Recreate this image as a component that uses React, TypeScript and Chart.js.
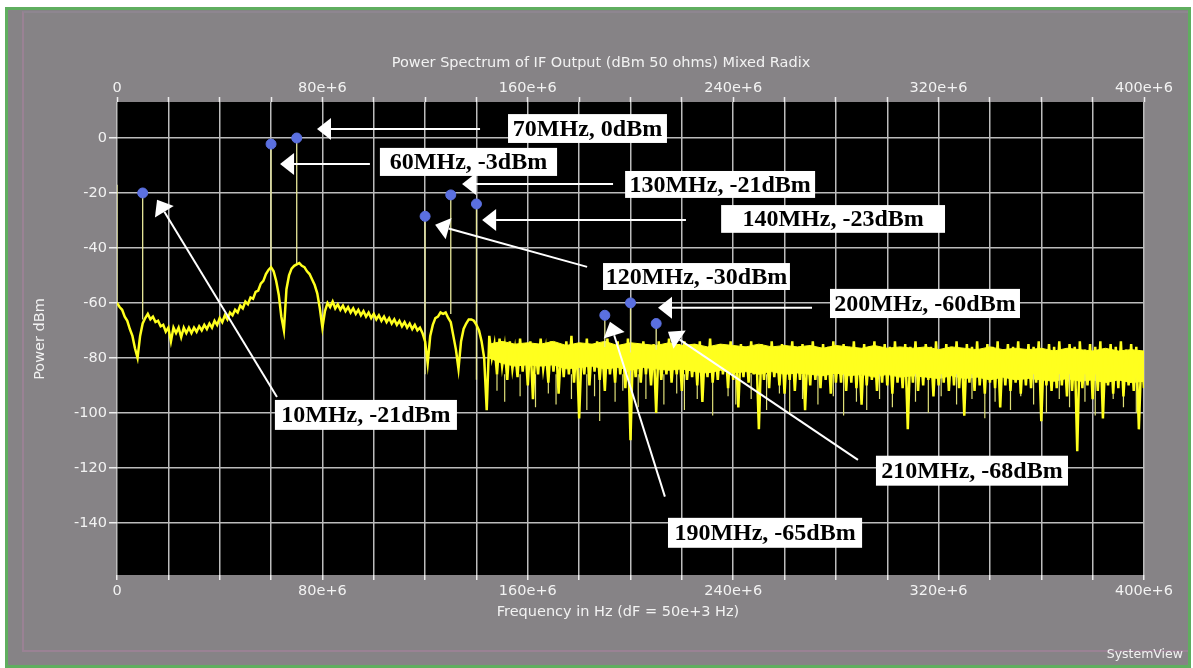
import React, { useEffect, useRef } from "react";
import { Chart, registerables } from "chart.js";

Chart.register(...registerables);

// ---------- data ----------
const chartTitle = "Power Spectrum of IF Output (dBm 50 ohms) Mixed Radix";
const xAxisTitle = "Frequency in Hz (dF = 50e+3 Hz)";
const yAxisTitle = "Power dBm";
const brandText = "SystemView";

// frequency grid lines (Hz) and the ones that carry a label
const xGridHz = [
  0, 20e6, 40e6, 60e6, 80e6, 100e6, 120e6, 140e6, 160e6, 180e6, 200e6,
  220e6, 240e6, 260e6, 280e6, 300e6, 320e6, 340e6, 360e6, 380e6, 400e6,
];
const xLabelHz = [0, 80e6, 160e6, 240e6, 320e6, 400e6];
const yTicks = [0, -20, -40, -60, -80, -100, -120, -140];
const yMin = -159;
const yMax = 13.1;

// displayed spectrum, one value per 1 MHz bin (dBm)
const binStepMHz = 1;
const lowBandDb = [
  -60, -61.5, -62.5, -65, -66.5, -69.5, -72, -76.5, -80, -72,
  -67.5, -65.5, -64, -66, -65, -67, -66.5, -68.5, -68, -70.5,
  -69, -74, -69, -71, -69, -72.5, -69, -71, -69, -71,
  -69, -70.5, -68.5, -70, -68, -69.5, -67.5, -69, -66.5, -68,
  -65.5, -67, -64.5, -66, -63.5, -64.5, -62.5, -63.5, -61, -62,
  -59.5, -60.5, -58, -58.5, -56, -55.5, -53, -52, -49.5, -48,
  -47, -48.5, -52, -57, -65, -70, -55, -50, -47.5, -46.5,
  -46, -45.5, -46.5, -47, -48.5, -49.5, -51.5, -53.5, -56.5, -62,
  -69, -63, -60, -61.5, -59.5, -62, -60.5, -62.5, -61, -63,
  -61.5, -63.5, -62, -64, -62.5, -64.5, -63, -65, -63.5, -65.5,
  -64, -66, -64.5, -66.5, -65, -67, -65.5, -67.5, -66, -68,
  -66.5, -68.5, -67, -69, -67.5, -69.5, -68, -70, -69, -71,
  -74, -82, -72, -68, -65.5, -65, -63.5, -64, -63.5, -65.5,
  -67, -72, -77, -84, -74, -69.5, -67.5, -66, -66, -66.5,
  -68, -70, -74, -80, -99,
];
const noiseBandDb = [
  -72, -80, -75, -86, -73, -83, -76, -88, -74, -84,
  -77, -87, -73, -85, -75, -90, -74, -95, -76, -86,
  -73, -84, -77, -89, -74, -85, -75, -93, -76, -87,
  -74, -86, -72, -89, -75, -102, -76, -86, -73, -90,
  -75, -85, -74, -88, -76, -92, -73, -86, -77, -89,
  -74, -86, -76, -91, -73, -110, -75, -87, -77, -89,
  -74, -86, -76, -90, -75, -100, -74, -88, -77, -86,
  -73, -89, -76, -86, -75, -92, -74, -88, -77, -87,
  -75, -90, -74, -96, -76, -87, -73, -89, -77, -88,
  -75, -86, -76, -91, -74, -88, -77, -98, -75, -87,
  -76, -89, -74, -86, -77, -106, -75, -88, -76, -91,
  -74, -87, -77, -90, -75, -93, -76, -88, -74, -92,
  -77, -88, -75, -99, -76, -90, -74, -88, -77, -91,
  -75, -88, -76, -93, -74, -89, -77, -89, -75, -92,
  -76, -89, -74, -91, -77, -97, -75, -90, -76, -88,
  -74, -92, -77, -89, -75, -90, -76, -93, -74, -89,
  -77, -91, -75, -106, -76, -89, -74, -92, -77, -90,
  -75, -88, -76, -94, -74, -90, -77, -89, -75, -92,
  -76, -90, -74, -91, -77, -101, -75, -89, -76, -92,
  -74, -90, -77, -93, -75, -89, -76, -91, -74, -98,
  -77, -90, -75, -92, -76, -89, -74, -93, -77, -90,
  -75, -91, -76, -89, -74, -103, -77, -90, -75, -92,
  -76, -91, -74, -90, -77, -94, -75, -92, -76, -114,
  -74, -91, -77, -90, -75, -95, -76, -92, -74, -102,
  -77, -90, -75, -93, -76, -91, -74, -94, -77, -90,
  -75, -92, -76, -106, -78, -91,
];

// dense core of the noise floor, every 5 MHz from 145 MHz (dBm)
const coreStartMHz = 145;
const coreStepMHz = 5;
const coreTopDb = [
  -75, -74, -75, -74.5, -75, -74, -75.5, -74.5, -75, -74,
  -75.5, -74.5, -75, -75.5, -74.5, -75.5, -75, -76, -75, -75.5,
  -76, -75, -76, -75.5, -76, -75.5, -76.5, -75.5, -76, -76.5,
  -75.5, -76.5, -76, -76.5, -76, -77, -76, -76.5, -77, -76,
  -77, -76.5, -77, -76.5, -77.5, -76.5, -77, -77.5, -76.5, -77.5,
  -77, -77.5,
];
const coreBottomDb = [
  -80, -82, -83, -82.5, -83, -82.5, -84, -83.5, -83, -84,
  -83.5, -84.5, -83.5, -84, -84.5, -84, -85, -85.5, -84.5, -85.5,
  -85, -86, -85, -86, -85.5, -86, -86.5, -85.5, -86.5, -86,
  -87, -86, -87, -86.5, -87, -87.5, -86.5, -87.5, -87, -88,
  -87, -88, -87.5, -88, -88.5, -87.5, -88.5, -88, -89, -88,
  -89, -88.5,
];

// thin single-bin dips below the noise floor
const dipFromDb = -86;
const dipMHz = [
  148, 151, 157, 163, 168, 171, 177, 183, 186, 188, 194, 197, 203, 206, 213,
  218, 221, 226, 232, 238, 241, 247, 253, 258, 262, 267, 273, 279, 283, 288,
  292, 297, 302, 311, 316, 321, 327, 333, 338, 342, 348, 352, 357, 362, 367,
  371, 377, 381, 388, 392, 397,
];
const dipDb = [
  -92, -96, -94, -98, -93, -97, -95, -99, -94, -103, -96, -92, -98, -95, -97,
  -93, -99, -95, -101, -94, -97, -95, -99, -93, -100, -95, -97, -94, -101, -96,
  -99, -95, -98, -96, -100, -94, -97, -95, -102, -96, -99, -94, -97, -100, -95,
  -98, -96, -101, -95, -98, -100,
];

// single-bin tones (vertical lines)
const toneMHz = [0, 10, 60, 70, 120, 130, 140, 190, 200, 210];
const toneTopDb = [-17, -20, -2.2, 0, -28.5, -20.7, -24, -64.5, -60, -67.5];
const toneBottomDb = [-60, -66, -47, -46, -86, -64, -88, -76, -78, -77];

// marker dots
const markerMHz = [10, 60, 70, 120, 130, 140, 190, 200, 210];
const markerDb = [-20, -2.2, 0, -28.5, -20.7, -24, -64.5, -60, -67.5];

// callouts in data units: box [fromMHz, toMHz, topDb, bottomDb], arrow tail/tip [MHz, dB]
const callouts = [
  { text: "70MHz, 0dBm", box: [152.3, 214.2, 8.7, -1.8], tail: [141.4, 3.3], tip: [77.9, 3.3] },
  { text: "60MHz, -3dBm", box: [102.4, 171.4, -3.6, -13.8], tail: [98.5, -9.5], tip: [63.5, -9.5] },
  { text: "130MHz, -21dBm", box: [197.9, 271.9, -12.0, -21.8], tail: [193.2, -16.7], tip: [134.4, -16.7] },
  { text: "140MHz, -23dBm", box: [235.3, 322.5, -24.4, -34.5], tail: [221.6, -29.8], tip: [142.2, -29.8] },
  { text: "120MHz, -30dBm", box: [189.3, 262.1, -45.5, -55.3], tail: [183.1, -46.9], tip: [123.9, -31.6] },
  { text: "200MHz, -60dBm", box: [277.7, 351.7, -54.9, -65.5], tail: [270.7, -61.8], tip: [210.7, -61.8] },
  { text: "210MHz, -68dBm", box: [295.6, 370.4, -115.6, -126.5], tail: [288.6, -117.1], tip: [214.6, -70.5] },
  { text: "190MHz, -65dBm", box: [214.6, 290.2, -138.2, -149.1], tail: [213.4, -130.5], tip: [192.0, -66.9] },
  { text: "10MHz, -21dBm", box: [61.5, 132.4, -95.3, -106.2], tail: [62.3, -94.2], tip: [15.6, -22.5] },
];

// ---------- styles ----------
const W = 1193;
const H = 668;
const TEXT_COLOR = "#f2f2f2";
const GRID_COLOR = "#bcbcbc";
const TRACE_COLOR = "#ffff1e";
const UI_FONT = "DejaVu Sans";
const UI_SIZE = 14.5;

const plotBackground = {
  id: "plotBackground",
  beforeDraw(chart: any) {
    const { ctx, chartArea } = chart;
    ctx.save();
    ctx.fillStyle = "#000000";
    ctx.fillRect(chartArea.left, chartArea.top, chartArea.right - chartArea.left, chartArea.bottom - chartArea.top);
    ctx.restore();
  },
};

const frameTexts = {
  id: "frameTexts",
  afterDraw(chart: any) {
    const { ctx } = chart;
    ctx.save();
    ctx.fillStyle = TEXT_COLOR;
    ctx.font = `${UI_SIZE}px "${UI_FONT}"`;
    ctx.textAlign = "center";
    ctx.textBaseline = "middle";
    ctx.fillText(chartTitle, 601, 63);
    ctx.fillText(xAxisTitle, 618, 612);
    ctx.save();
    ctx.translate(40, 339);
    ctx.rotate(-Math.PI / 2);
    ctx.fillText(yAxisTitle, 0, 0);
    ctx.restore();
    ctx.font = `12.5px "${UI_FONT}"`;
    ctx.textAlign = "right";
    ctx.fillText(brandText, 1183, 655);
    ctx.restore();
  },
};

const calloutPlugin = {
  id: "callouts",
  afterDatasetsDraw(chart: any) {
    const { ctx, scales } = chart;
    const xs = scales.x;
    const ys = scales.y;
    const px = (mhz: number) => xs.getPixelForValue(mhz * 1e6);
    const py = (db: number) => ys.getPixelForValue(db);
    ctx.save();
    for (const c of callouts) {
      const sx = px(c.tail[0]);
      const sy = py(c.tail[1]);
      const tx = px(c.tip[0]);
      const ty = py(c.tip[1]);
      const ang = Math.atan2(ty - sy, tx - sx);
      const headLen = 14;
      const headHalf = 11;
      const bx = tx - headLen * Math.cos(ang);
      const by = ty - headLen * Math.sin(ang);
      ctx.strokeStyle = "#ffffff";
      ctx.lineWidth = 2;
      ctx.beginPath();
      ctx.moveTo(sx, sy);
      ctx.lineTo(bx, by);
      ctx.stroke();
      ctx.fillStyle = "#ffffff";
      ctx.beginPath();
      ctx.moveTo(tx, ty);
      ctx.lineTo(bx + headHalf * Math.sin(ang), by - headHalf * Math.cos(ang));
      ctx.lineTo(bx - headHalf * Math.sin(ang), by + headHalf * Math.cos(ang));
      ctx.closePath();
      ctx.fill();

      const l = px(c.box[0]);
      const r = px(c.box[1]);
      const t = py(c.box[2]);
      const b = py(c.box[3]);
      ctx.fillStyle = "#ffffff";
      ctx.fillRect(l, t, r - l, b - t);
      ctx.fillStyle = "#000000";
      ctx.font = 'bold 24px "Liberation Serif"';
      ctx.textAlign = "center";
      ctx.textBaseline = "middle";
      ctx.fillText(c.text, (l + r) / 2, (t + b) / 2 + 1);
    }
    ctx.restore();
  },
};

const hzLabel = (v: number) => {
  if (!xLabelHz.includes(v)) return "";
  return v === 0 ? "0" : `${v / 1e6}e+6`;
};

export default function App() {
  const canvasRef = useRef<HTMLCanvasElement | null>(null);

  useEffect(() => {
    const canvas = canvasRef.current;
    if (!canvas) return;

    const spectrumDb = [...lowBandDb, ...noiseBandDb];
    const spectrumPoints = spectrumDb.map((db, i) => ({ x: i * binStepMHz * 1e6, y: db }));

    const coreTopPoints = coreTopDb.map((db, i) => ({ x: (coreStartMHz + i * coreStepMHz) * 1e6, y: db }));
    const coreBottomPoints = coreBottomDb.map((db, i) => ({ x: (coreStartMHz + i * coreStepMHz) * 1e6, y: db }));

    const tonePoints: { x: number; y: number | null }[] = [];
    toneMHz.forEach((f, i) => {
      tonePoints.push({ x: f * 1e6, y: toneTopDb[i] });
      tonePoints.push({ x: f * 1e6, y: toneBottomDb[i] });
      tonePoints.push({ x: f * 1e6, y: null });
    });

    const dipPoints: { x: number; y: number | null }[] = [];
    dipMHz.forEach((f, i) => {
      dipPoints.push({ x: f * 1e6, y: dipFromDb });
      dipPoints.push({ x: f * 1e6, y: dipDb[i] });
      dipPoints.push({ x: f * 1e6, y: null });
    });

    const markerPoints = markerMHz.map((f, i) => ({ x: f * 1e6, y: markerDb[i] }));

    const tickFont = { family: UI_FONT, size: UI_SIZE };

    const chart = new Chart(canvas, {
      type: "line",
      data: {
        datasets: [
          {
            type: "scatter",
            label: "markers",
            data: markerPoints,
            pointRadius: 5,
            pointBackgroundColor: "#5b70e0",
            pointBorderColor: "#5b70e0",
            showLine: false,
          } as any,
          {
            type: "line",
            label: "spectrum",
            data: spectrumPoints,
            borderColor: TRACE_COLOR,
            borderWidth: 2.5,
            pointRadius: 0,
            tension: 0,
          },
          {
            type: "line",
            label: "tones",
            data: tonePoints as any,
            borderColor: "#e8e89a",
            borderWidth: 1.3,
            pointRadius: 0,
            spanGaps: false,
          },
          {
            type: "line",
            label: "dips",
            data: dipPoints as any,
            borderColor: "#dede78",
            borderWidth: 1.2,
            pointRadius: 0,
            spanGaps: false,
          },
          {
            type: "line",
            label: "noise core top",
            data: coreTopPoints,
            borderColor: TRACE_COLOR,
            borderWidth: 1,
            pointRadius: 0,
            fill: false,
          },
          {
            type: "line",
            label: "noise core bottom",
            data: coreBottomPoints,
            borderColor: TRACE_COLOR,
            borderWidth: 1,
            pointRadius: 0,
            backgroundColor: TRACE_COLOR,
            fill: "-1",
          },
        ],
      },
      options: {
        animation: false,
        responsive: false,
        devicePixelRatio: 1,
        layout: { padding: { left: 0, right: 49, top: 0, bottom: 43 } },
        plugins: {
          legend: { display: false },
          tooltip: { enabled: false },
          title: { display: false },
        },
        scales: {
          x: {
            type: "linear",
            position: "bottom",
            min: 0,
            max: 400e6,
            afterBuildTicks: (s: any) => {
              s.ticks = xGridHz.map((v) => ({ value: v }));
            },
            afterFit: (s: any) => {
              s.height = 50;
            },
            border: { display: false },
            grid: {
              color: GRID_COLOR,
              lineWidth: 1.5,
              tickLength: 5,
              tickColor: "#f0f0f0",
              tickWidth: 1.5,
            },
            ticks: {
              autoSkip: false,
              maxRotation: 0,
              minRotation: 0,
              padding: 3,
              color: TEXT_COLOR,
              font: tickFont,
              callback: (v: any) => hzLabel(Number(v)),
            },
          },
          x2: {
            type: "linear",
            position: "top",
            min: 0,
            max: 400e6,
            afterBuildTicks: (s: any) => {
              s.ticks = xGridHz.map((v) => ({ value: v }));
            },
            afterFit: (s: any) => {
              s.height = 102;
            },
            border: { display: false },
            grid: {
              drawOnChartArea: false,
              tickLength: 5,
              tickColor: "#f0f0f0",
              tickWidth: 1.5,
            },
            ticks: {
              autoSkip: false,
              maxRotation: 0,
              minRotation: 0,
              padding: 0,
              color: TEXT_COLOR,
              font: tickFont,
              callback: (v: any) => hzLabel(Number(v)),
            },
          },
          y: {
            type: "linear",
            position: "left",
            min: yMin,
            max: yMax,
            afterBuildTicks: (s: any) => {
              s.ticks = yTicks.map((v) => ({ value: v }));
            },
            afterFit: (s: any) => {
              s.width = 117;
            },
            border: { display: false },
            grid: {
              color: GRID_COLOR,
              lineWidth: 1.5,
              tickLength: 8,
              tickColor: "#f0f0f0",
              tickWidth: 1.5,
            },
            ticks: {
              padding: 2,
              color: TEXT_COLOR,
              font: tickFont,
              callback: (v: any) => String(v),
            },
          },
        },
      },
      plugins: [plotBackground, calloutPlugin, frameTexts],
    });

    return () => {
      chart.destroy();
    };
  }, []);

  return (
    <div style={{ position: "fixed", left: 0, top: 0, width: W, height: H, background: "#ffffff", overflow: "hidden" }}>
      <div
        style={{
          position: "absolute",
          left: 5,
          top: 7,
          width: 1186,
          height: 661,
          boxSizing: "border-box",
          border: "3px solid #5fae5f",
          background: "#868386",
        }}
      />
      <div
        style={{
          position: "absolute",
          left: 22,
          top: 11,
          width: 1166,
          height: 641,
          boxSizing: "border-box",
          borderLeft: "2px solid #9a8294",
          borderTop: "2px solid #8e8690",
          borderBottom: "2px solid #9a8294",
        }}
      />
      <canvas
        ref={canvasRef}
        width={W}
        height={H}
        style={{ position: "absolute", left: 0, top: 0, width: W, height: H }}
      />
    </div>
  );
}
